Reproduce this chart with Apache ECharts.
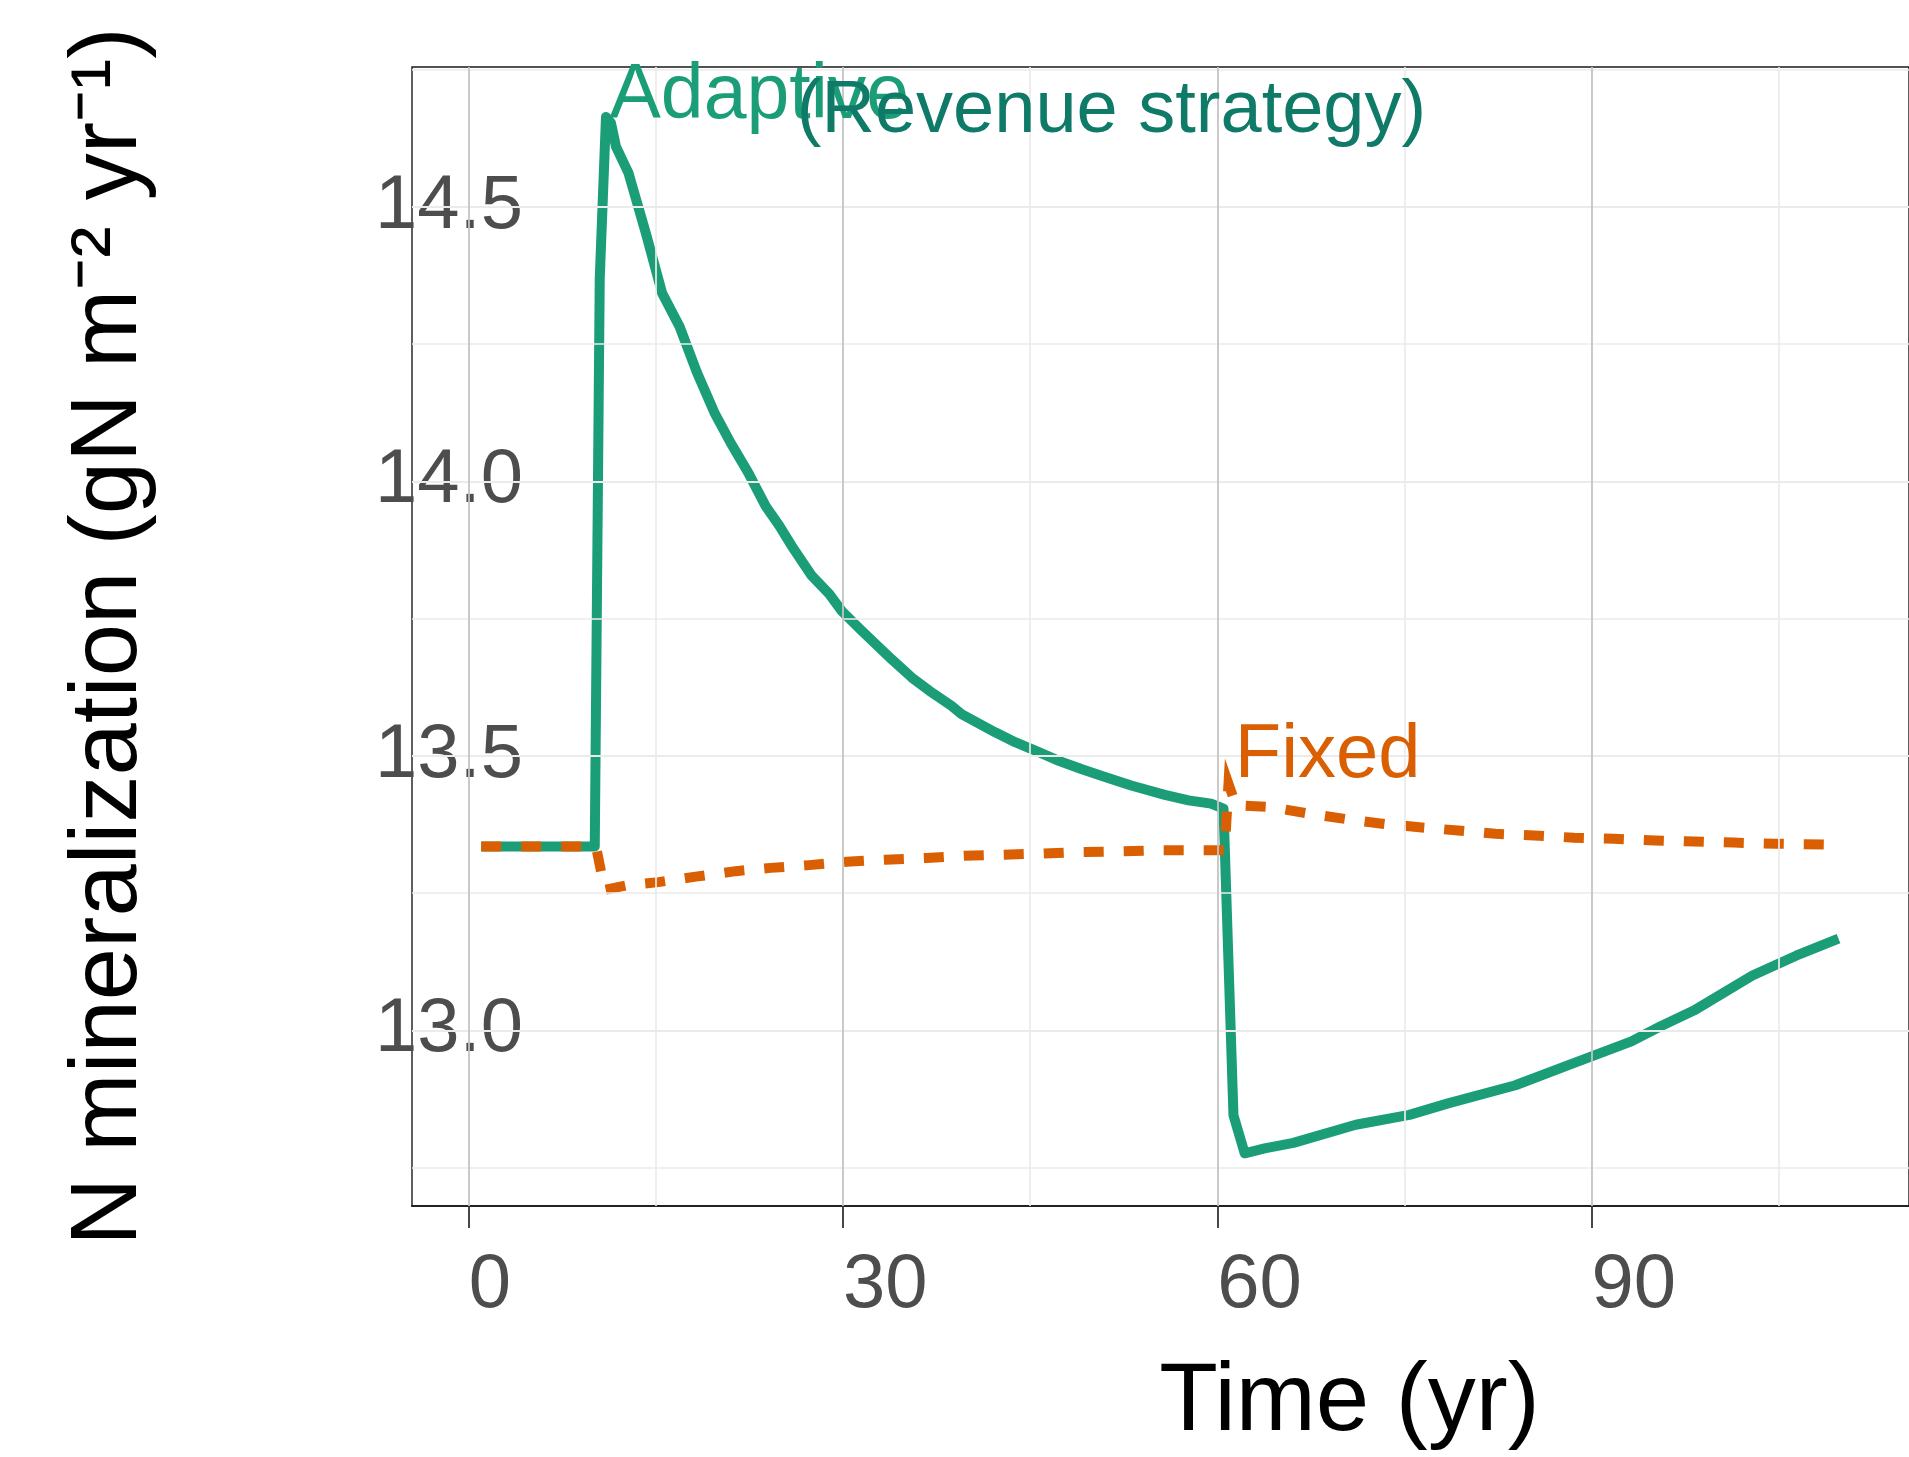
<!DOCTYPE html>
<html>
<head>
<meta charset="utf-8">
<script src="https://cdn.jsdelivr.net/npm/echarts@6/dist/echarts.min.js"></script>
<style>
html,body{margin:0;padding:0;background:#ffffff;}
#chart{width:1909px;height:1457px;}
</style>
</head>
<body>
<div id="chart"></div>
<script>
// ---------------- data ----------------
const xTickValues = [0, 30, 60, 90];
const xMinorValues = [15, 45, 75, 105];
const yTickValues = [13.0, 13.5, 14.0, 14.5];
const yMinorValues = [12.75, 13.25, 13.75, 14.25, 14.75];

// Adaptive (Revenue strategy)
const adaptiveYears = [1, 2, 3, 4, 5, 6, 7, 8, 9, 10.1, 10.5, 11.0, 11.4, 11.8, 12.8, 14.2, 15.5, 16.9, 18.3, 19.7, 21.0, 22.4, 23.8, 24.9, 25.9, 27.5, 28.9, 29.9, 31.5, 33.9, 35.5, 36.9, 38.7, 39.5, 42.2, 43.8, 45.7, 47.3, 49.1, 50.7, 53.1, 55.8, 57.7, 59.5, 60.5, 61.3, 62.2, 63.8, 66.1, 71.1, 75.4, 78.5, 83.9, 88.2, 93.2, 95.5, 98.2, 102.9, 106.4, 109.8];
const adaptiveValues = [13.335, 13.335, 13.335, 13.335, 13.335, 13.335, 13.335, 13.335, 13.335, 13.335, 14.37, 14.664, 14.653, 14.61, 14.562, 14.452, 14.343, 14.282, 14.198, 14.125, 14.07, 14.016, 13.955, 13.919, 13.882, 13.828, 13.795, 13.764, 13.728, 13.676, 13.643, 13.619, 13.591, 13.576, 13.543, 13.525, 13.507, 13.491, 13.476, 13.464, 13.446, 13.429, 13.419, 13.413, 13.404, 12.845, 12.776, 12.785, 12.795, 12.828, 12.846, 12.867, 12.900, 12.937, 12.980, 13.007, 13.036, 13.100, 13.136, 13.167];

// Fixed
const fixedYears = [1, 2, 3, 4, 5, 6, 7, 8, 9, 10.2, 10.9, 12.6, 15.2, 18.2, 21.4, 24.2, 27.3, 30.3, 33.4, 36.7, 39.7, 42.7, 45.8, 49.1, 52.3, 55.6, 58.7, 60.6, 60.9, 61.5, 64.2, 67.3, 70.3, 73.4, 76.2, 79.3, 82.3, 85.4, 88.6, 91.8, 95.1, 98.2, 101.4, 104.8, 109.8];
const fixedValues = [13.335, 13.335, 13.335, 13.335, 13.335, 13.335, 13.335, 13.335, 13.335, 13.335, 13.256, 13.264, 13.270, 13.280, 13.290, 13.296, 13.301, 13.307, 13.311, 13.314, 13.318, 13.320, 13.322, 13.325, 13.326, 13.328, 13.328, 13.328, 13.449, 13.410, 13.407, 13.395, 13.385, 13.376, 13.370, 13.364, 13.358, 13.355, 13.351, 13.349, 13.346, 13.344, 13.342, 13.340, 13.338];

const seriesNames = ['Adaptive', 'Fixed'];
const annotationTexts = ['Adaptive', '(Revenue strategy)', 'Fixed'];

// ---------------- chart ----------------
const FONT = '"Liberation Sans", Arial, Helvetica, sans-serif';
const GREEN = '#1b9e77';
const ORANGE = '#d95f02';
const TEAL_DARK = '#0e7a67';

const pairs = (xs, ys) => xs.map((x, i) => [x, ys[i]]);

const chart = echarts.init(document.getElementById('chart'), null, {renderer: 'canvas'});

const gridLines = [].concat(
  yMinorValues.map(v => ({yAxis: v, lineStyle: {color: '#ebebeb', width: 1.7, type: 'solid'}})),
  yTickValues.map(v => ({yAxis: v, lineStyle: {color: '#ebebeb', width: 2, type: 'solid'}})),
  xMinorValues.map(v => ({xAxis: v, lineStyle: {color: '#ebebeb', width: 1.7, type: 'solid'}})),
  xTickValues.map(v => ({xAxis: v, lineStyle: {color: '#c4c4c4', width: 1.8, type: 'solid'}}))
);

const option = {
  animation: false,
  backgroundColor: '#ffffff',
  textStyle: {fontFamily: FONT},
  grid: {
    left: 412, top: 67, width: 1500, height: 1141,
    show: true, borderColor: '#1a1a1a', borderWidth: 1.4, backgroundColor: 'transparent'
  },
  xAxis: {
    type: 'value',
    min: -4.55, max: 115.45,
    name: 'Time (yr)',
    nameLocation: 'middle',
    nameGap: 150,
    nameTextStyle: {fontSize: 96, color: '#000000', fontFamily: FONT, padding: [0, 0, 0, 378]},
    axisLine: {show: true, onZero: false, lineStyle: {color: '#222222', width: 2}},
    axisTick: {show: true, customValues: xTickValues, length: 22, lineStyle: {color: '#333333', width: 1.8}},
    axisLabel: {show: true, customValues: xTickValues, align: 'left', margin: 42, fontSize: 76, color: '#4d4d4d', fontFamily: FONT},
    splitLine: {show: false},
    minorSplitLine: {show: false}
  },
  yAxis: {
    type: 'value',
    min: 12.68, max: 14.755,
    name: 'N mineralization (gN m⁻² yr⁻¹)',
    nameLocation: 'middle',
    nameGap: 255,
    nameTextStyle: {fontSize: 94, color: '#000000', fontFamily: FONT},
    axisLine: {show: false},
    axisTick: {show: true, customValues: yTickValues, length: 22, lineStyle: {color: '#333333', width: 1.8}},
    axisLabel: {show: true, customValues: yTickValues, align: 'left', margin: 37, fontSize: 76, color: '#4d4d4d', fontFamily: FONT,
      padding: [16, 0, 0, 0], formatter: v => Number(v).toFixed(1)},
    splitLine: {show: false}
  },
  series: [
    {
      name: 'gridlines', type: 'line', data: [], z: 1, silent: true,
      markLine: {silent: true, symbol: ['none', 'none'], label: {show: false}, animation: false, data: gridLines}
    },
    {
      name: seriesNames[0], type: 'line', data: pairs(adaptiveYears, adaptiveValues),
      showSymbol: false, symbol: 'none', z: 3, clip: true,
      lineStyle: {color: GREEN, width: 10, cap: 'butt', join: 'round'}
    },
    {
      name: seriesNames[1], type: 'line', data: pairs(fixedYears, fixedValues),
      showSymbol: false, symbol: 'none', z: 4, clip: true,
      lineStyle: {color: ORANGE, width: 10, type: [20, 20], cap: 'butt', join: 'miter'}
    }
  ]
};
chart.setOption(option);

// annotations placed in data coordinates through the chart's own scales
const annotationSpecs = [
  {text: annotationTexts[0], at: [11.28, 14.70], color: GREEN, size: 77},
  {text: annotationTexts[1], at: [26.3, 14.673], color: TEAL_DARK, size: 74},
  {text: annotationTexts[2], at: [61.4, 13.50], color: ORANGE, size: 76}
];
const graphics = annotationSpecs.map((a, i) => {
  const p = chart.convertToPixel({gridIndex: 0}, a.at);
  return {
    type: 'text', x: p[0], y: p[1], z: 20 + i, silent: true,
    style: {
      text: a.text, fill: a.color, font: a.size + 'px ' + FONT,
      align: 'left', verticalAlign: 'middle', textAlign: 'left', textVerticalAlign: 'middle'
    }
  };
});
chart.setOption({graphic: graphics});
</script>
</body>
</html>
